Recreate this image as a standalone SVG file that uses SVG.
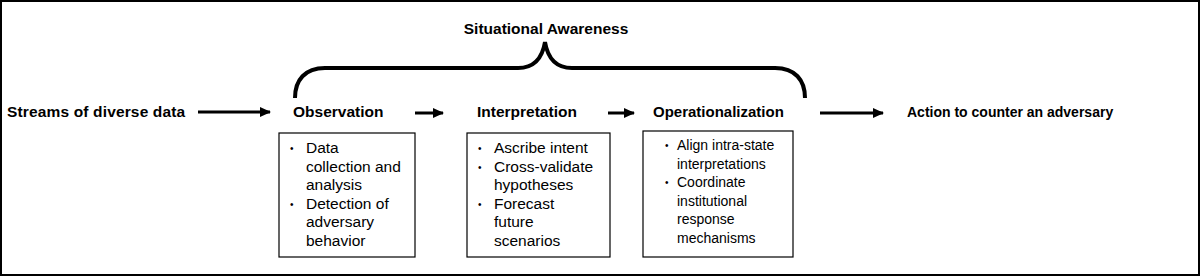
<svg xmlns="http://www.w3.org/2000/svg" width="1200" height="276" viewBox="0 0 1200 276">
<style>
.t{font-family:"Liberation Sans",Arial,sans-serif;fill:#000}
.b{font-weight:bold}
.bl{font-size:10px}
.box{fill:#fff;stroke:#000;stroke-width:1.2}
.c{stroke:#000;stroke-width:3;fill:none}
</style>
<defs>
<marker id="ah" markerWidth="11" markerHeight="10" refX="10" refY="5" orient="auto" markerUnits="userSpaceOnUse">
<path d="M0,0 L11,5 L0,10 Z" fill="#000"/>
</marker>
</defs>
<rect x="1" y="1" width="1198" height="274" fill="#fff" stroke="#000" stroke-width="2"/>
<g id="brace">
<path d="M295,98 C295,80 305,68 325,68 L518,68 C532,68 542,60 545,42 C548,60 558,68 572,68 L775,68 C795,68 805,80 805,98" fill="none" stroke="#000" stroke-width="4"/>
<text class="t b" x="546" y="34" font-size="15.5" text-anchor="middle">Situational Awareness</text>
</g>
<g id="connectors">
<line class="c" x1="198" y1="112" x2="270" y2="112" marker-end="url(#ah)"/>
<line class="c" x1="415" y1="113" x2="443" y2="113" marker-end="url(#ah)"/>
<line class="c" x1="608" y1="113" x2="634" y2="113" marker-end="url(#ah)"/>
<line class="c" x1="820" y1="113" x2="883" y2="113" marker-end="url(#ah)"/>
</g>
<g id="streams">
<text class="t b" x="7" y="117" font-size="15.5" letter-spacing="0.15">Streams of diverse data</text>
</g>
<g id="observation">
<text class="t b" x="293" y="117" font-size="15.5">Observation</text>
<rect class="box" x="279" y="133" width="136" height="124"/>
<g class="t" font-size="15.5">
<text class="bl" x="290" y="152">•</text>
<text x="306" y="153">Data</text>
<text x="306" y="171.5">collection and</text>
<text x="306" y="190">analysis</text>
<text class="bl" x="290" y="207.5">•</text>
<text x="306" y="208.5">Detection of</text>
<text x="306" y="227">adversary</text>
<text x="306" y="245.5">behavior</text>
</g>
</g>
<g id="interpretation">
<text class="t b" x="477" y="117" font-size="15.5">Interpretation</text>
<rect class="box" x="467" y="133" width="143" height="124"/>
<g class="t" font-size="15.5">
<text class="bl" x="478" y="152">•</text>
<text x="494" y="153">Ascribe intent</text>
<text class="bl" x="478" y="170.5">•</text>
<text x="494" y="171.5">Cross-validate</text>
<text x="494" y="190">hypotheses</text>
<text class="bl" x="478" y="207.5">•</text>
<text x="494" y="208.5">Forecast</text>
<text x="494" y="227">future</text>
<text x="494" y="245.5">scenarios</text>
</g>
</g>
<g id="operationalization">
<text class="t b" x="653" y="117" font-size="15">Operationalization</text>
<rect class="box" x="643" y="131" width="150" height="126"/>
<g class="t" font-size="14">
<text class="bl" x="665" y="149">•</text>
<text x="677" y="150">Align intra-state</text>
<text x="677" y="168.5">interpretations</text>
<text class="bl" x="665" y="186">•</text>
<text x="677" y="187">Coordinate</text>
<text x="677" y="205.5">institutional</text>
<text x="677" y="224">response</text>
<text x="677" y="242.5">mechanisms</text>
</g>
</g>
<g id="action">
<text class="t b" x="907" y="117" font-size="14">Action to counter an adversary</text>
</g>
</svg>
